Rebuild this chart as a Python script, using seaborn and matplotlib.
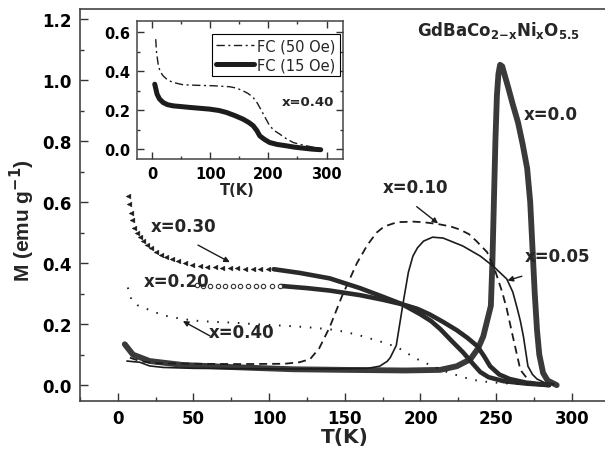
import numpy as np
import pandas as pd
import matplotlib
matplotlib.use("Agg")
import matplotlib.pyplot as plt
from matplotlib.ticker import MultipleLocator, FormatStrFormatter
import seaborn as sns

# ---------------- data ----------------
T_x00 = [4.6, 10, 21, 43, 76, 116, 150, 190, 213, 224, 233, 238, 241.5, 244, 246.5, 247.5,
         248.5, 249.5, 250.5, 251.5, 252.6, 254, 256, 258, 261, 264.5, 267.5, 270.5, 272.5,
         274, 275.5, 277, 278.5, 281, 284, 290]
M_x00 = [0.134, 0.10, 0.079, 0.066, 0.059, 0.052, 0.05, 0.048, 0.05, 0.062, 0.085, 0.12, 0.16,
         0.21, 0.26, 0.40, 0.60, 0.80, 0.95, 1.02, 1.05, 1.045, 1.01, 0.975, 0.92, 0.86, 0.79,
         0.71, 0.60, 0.45, 0.30, 0.18, 0.10, 0.04, 0.015, 0.0]

T_x05 = [6, 10, 14.5, 21, 30, 50, 80, 110, 140, 165, 173, 178, 180, 184, 188.6, 192, 195, 198,
         202, 208, 215, 228, 239.5, 248, 257, 261, 264, 266, 268, 271, 274, 277, 282, 288]
M_x05 = [0.079, 0.077, 0.075, 0.063, 0.058, 0.055, 0.054, 0.053, 0.053, 0.055, 0.062, 0.078,
         0.09, 0.13, 0.272, 0.37, 0.423, 0.45, 0.472, 0.485, 0.482, 0.456, 0.423, 0.39, 0.348,
         0.305, 0.25, 0.21, 0.16, 0.062, 0.035, 0.02, 0.008, 0.003]

T_x10 = [8, 15, 25, 50, 80, 110, 120, 127, 133, 140, 148, 158, 165, 171, 176, 184.5, 195, 202,
         211.6, 220, 226, 232, 237, 244, 249, 254, 257, 261, 266, 272, 280]
M_x10 = [0.09, 0.078, 0.072, 0.07, 0.069, 0.07, 0.075, 0.085, 0.12, 0.19, 0.29, 0.40, 0.46,
         0.50, 0.52, 0.534, 0.536, 0.534, 0.528, 0.52, 0.51, 0.495, 0.472, 0.436, 0.38, 0.305,
         0.25, 0.16, 0.05, 0.012, 0.002]

T_x20_pts = [52, 56, 61, 66, 71, 76, 81, 86, 91, 96, 102, 107]
M_x20_pts = [0.327, 0.326, 0.326, 0.326, 0.326, 0.326, 0.326, 0.325, 0.325, 0.325, 0.325, 0.325]
T_x20 = [108, 125, 140, 160, 175, 188, 198, 206, 215, 224, 231, 237.5, 242, 246, 252, 259, 270, 285]
M_x20 = [0.325, 0.318, 0.31, 0.295, 0.28, 0.265, 0.25, 0.232, 0.207, 0.18, 0.155, 0.128,
         0.095, 0.062, 0.035, 0.02, 0.008, 0.0]

T_x30_pts = [6.6, 7.5, 8.5, 9.5, 11, 12.5, 14.5, 16.5, 19, 22, 25, 28.5, 32, 36, 40, 44.5, 49,
             54, 59, 64, 69, 74, 79, 84, 89, 94, 99]
M_x30_pts = [0.62, 0.595, 0.565, 0.54, 0.515, 0.498, 0.485, 0.472, 0.46, 0.448, 0.438, 0.428,
             0.42, 0.413, 0.406, 0.4, 0.395, 0.39, 0.388, 0.386, 0.385, 0.384, 0.383, 0.382,
             0.381, 0.381, 0.38]
T_x30 = [103, 120, 140, 160, 175, 188, 200, 207, 213, 220, 228, 235, 239.5, 245, 255, 270, 285]
M_x30 = [0.38, 0.368, 0.35, 0.318, 0.29, 0.265, 0.232, 0.21, 0.184, 0.148, 0.108, 0.068,
         0.043, 0.026, 0.013, 0.005, 0.0]

T_x40 = [6.6, 9, 13, 19, 25, 32, 42, 54, 65, 76, 90, 109, 125, 140, 150, 162, 174, 184.5, 191,
         198, 208, 217.5, 228, 239, 255, 272]
M_x40 = [0.32, 0.28, 0.262, 0.25, 0.238, 0.227, 0.217, 0.21, 0.207, 0.205, 0.2, 0.195, 0.19,
         0.183, 0.175, 0.16, 0.142, 0.125, 0.105, 0.085, 0.062, 0.043, 0.026, 0.013, 0.006, 0.003]

# inset: x = 0.40, two fields
T_fc50 = [5.7, 7, 9.8, 13, 18.4, 26, 35.6, 53, 80, 104.6, 133, 145, 156, 165, 173.6, 181, 188,
          195, 202, 210, 219.5, 230, 242.5, 255, 265.5, 280, 294]
M_fc50 = [0.564, 0.5, 0.436, 0.4, 0.376, 0.355, 0.342, 0.33, 0.327, 0.325, 0.32, 0.313, 0.299,
          0.285, 0.265, 0.235, 0.197, 0.158, 0.12, 0.095, 0.077, 0.055, 0.034, 0.024, 0.017,
          0.008, 0.0]
T_fc15 = [4, 8, 12, 18.4, 26, 35.6, 50, 64, 80, 99, 115, 127.6, 142, 156, 166, 173.6, 180, 185,
          193, 202, 215, 231, 245, 260, 275, 290]
M_fc15 = [0.333, 0.282, 0.258, 0.239, 0.228, 0.222, 0.218, 0.214, 0.21, 0.205, 0.198, 0.188,
          0.172, 0.154, 0.137, 0.12, 0.095, 0.068, 0.05, 0.034, 0.024, 0.017, 0.01, 0.005, 0.0,
          -0.003]

legend_labels = ["FC (50 Oe)", "FC (15 Oe)"]
x_ticks = [0, 50, 100, 150, 200, 250, 300]
y_ticks = [0.0, 0.2, 0.4, 0.6, 0.8, 1.0, 1.2]
inset_x_ticks = [0, 100, 200, 300]
inset_y_ticks = [0.0, 0.2, 0.4, 0.6]

# ---------------- style ----------------
sns.set_style("ticks")
plt.rcParams["font.family"] = ["DejaVu Sans"]
plt.rcParams["font.weight"] = "bold"
plt.rcParams["axes.labelweight"] = "bold"
plt.rcParams["mathtext.fontset"] = "custom"
plt.rcParams["mathtext.rm"] = "DejaVu Sans:bold"
plt.rcParams["mathtext.bf"] = "DejaVu Sans:bold"
plt.rcParams["mathtext.it"] = "DejaVu Sans:bold"

fig = plt.figure(figsize=(6.05, 4.60), dpi=100)
ax = fig.add_axes([0.1322, 0.1261, 0.868, 0.8522])

dark = "#1c1c1c"
grey = "#333333"

# x = 0.0 thick curve
sns.lineplot(x=T_x00, y=M_x00, ax=ax, sort=False, estimator=None, color="#3a3a3a", linewidth=4.2)
# x = 0.05 thin solid
sns.lineplot(x=T_x05, y=M_x05, ax=ax, sort=False, estimator=None, color=dark, linewidth=1.2)
# x = 0.10 dashed
sns.lineplot(x=T_x10, y=M_x10, ax=ax, sort=False, estimator=None, color=dark, linewidth=1.3,
             linestyle=(0, (4.4, 2.8)))
# x = 0.20 sparse circles + thick
sns.scatterplot(x=T_x20_pts, y=M_x20_pts, ax=ax, marker="o", s=10, color="white",
                edgecolor=grey, linewidth=0.8, zorder=3)
sns.lineplot(x=T_x20, y=M_x20, ax=ax, sort=False, estimator=None, color="#2a2a2a", linewidth=3.3)
# x = 0.30 sparse triangles + thick
sns.scatterplot(x=T_x30_pts, y=M_x30_pts, ax=ax, marker="<", s=12, color=dark,
                edgecolor=dark, linewidth=0.3, zorder=3)
sns.lineplot(x=T_x30, y=M_x30, ax=ax, sort=False, estimator=None, color="#2a2a2a", linewidth=3.3)
# x = 0.40 dotted
sns.lineplot(x=T_x40, y=M_x40, ax=ax, sort=False, estimator=None, color=dark, linewidth=1.4,
             linestyle=(0, (0.8, 4.5)))

ax.set_xlim(-25, 322)
ax.set_ylim(-0.052, 1.233)
ax.xaxis.set_major_locator(plt.FixedLocator(x_ticks))
ax.yaxis.set_major_locator(plt.FixedLocator(y_ticks))
ax.xaxis.set_minor_locator(MultipleLocator(25))
ax.yaxis.set_minor_locator(MultipleLocator(0.1))
ax.yaxis.set_major_formatter(FormatStrFormatter("%.1f"))
ax.tick_params(which="both", direction="in", colors="#333333", width=1.0, labelcolor="black")
ax.tick_params(which="major", length=6, labelsize=12)
ax.tick_params(which="minor", length=3)
ax.tick_params(axis="x", pad=6)
ax.tick_params(axis="y", pad=6)
for lbl in ax.get_xticklabels() + ax.get_yticklabels():
    lbl.set_fontweight("bold")
for side in ["left", "bottom", "top"]:
    ax.spines[side].set_color("#444444")
    ax.spines[side].set_linewidth(1.2)
ax.spines["right"].set_visible(False)

ax.set_xlabel("T(K)", fontsize=14.5, fontweight="bold")
ax.set_ylabel(r"M (emu g$^{-1}$)", fontsize=15, fontweight="bold",
              family=["Liberation Sans", "DejaVu Sans"])
ax.xaxis.set_label_coords(0.505, -0.066)
ax.yaxis.set_label_coords(-0.082, 0.462)

# title formula
ax.text(197.5, 1.147, r"GdBaCo$_{2\mathrm{-}x}$Ni$_{x}$O$_{5.5}$", fontsize=12,
        fontweight="bold", ha="left", va="baseline")

# annotations
afs = 12
arrow = dict(arrowstyle="-|>", color=dark, lw=1.0, mutation_scale=8, shrinkA=0, shrinkB=0)
ax.text(286.4, 0.889, "x=0.0", fontsize=afs, fontweight="bold", ha="center", va="center")
ax.annotate("", xy=(211.6, 0.530), xytext=(197.5, 0.585), arrowprops=arrow)
ax.text(196.8, 0.649, "x=0.10", fontsize=afs, fontweight="bold", ha="center", va="center")
ax.annotate("", xy=(257.5, 0.343), xytext=(267, 0.357), arrowprops=arrow)
ax.text(290.7, 0.423, "x=0.05", fontsize=afs, fontweight="bold", ha="center", va="center")
ax.annotate("", xy=(74, 0.403), xytext=(53, 0.459), arrowprops=arrow)
ax.text(43.7, 0.521, "x=0.30", fontsize=afs, fontweight="bold", ha="center", va="center")
ax.text(39, 0.341, "x=0.20", fontsize=afs, fontweight="bold", ha="center", va="center")
ax.annotate("", xy=(43, 0.21), xytext=(61, 0.161), arrowprops=arrow)
ax.text(82, 0.174, "x=0.40", fontsize=afs, fontweight="bold", ha="center", va="center")

# ---------------- inset ----------------
ins = fig.add_axes([0.227, 0.652, 0.3405, 0.2993])
ins.set_facecolor("white")
sns.lineplot(x=T_fc50, y=M_fc50, ax=ins, sort=False, estimator=None, color=dark, linewidth=1.0,
             linestyle=(0, (6, 2.5, 1.5, 2.5)), label=legend_labels[0])
sns.lineplot(x=T_fc15, y=M_fc15, ax=ins, sort=False, estimator=None, color=dark, linewidth=3.6,
             label=legend_labels[1])
ins.set_xlim(-26, 329)
ins.set_ylim(-0.051, 0.655)
ins.xaxis.set_major_locator(plt.FixedLocator(inset_x_ticks))
ins.yaxis.set_major_locator(plt.FixedLocator(inset_y_ticks))
ins.xaxis.set_minor_locator(MultipleLocator(50))
ins.yaxis.set_minor_locator(MultipleLocator(0.1))
ins.yaxis.set_major_formatter(FormatStrFormatter("%.1f"))
ins.tick_params(which="both", direction="in", top=True, right=True, colors="#333333",
                labelcolor="black", width=1.0)
ins.tick_params(which="major", length=5, labelsize=10.5)
ins.tick_params(which="minor", length=2.5)
ins.tick_params(axis="both", pad=5)
for lbl in ins.get_xticklabels() + ins.get_yticklabels():
    lbl.set_fontweight("bold")
for side in ins.spines.values():
    side.set_color("#444444")
    side.set_linewidth(1.1)
ins.set_xlabel("T(K)", fontsize=10.5, fontweight="bold")
ins.set_ylabel("")
ins.xaxis.set_label_coords(0.484, -0.17)
ins.text(268, 0.245, "x=0.40", fontsize=9.5, fontweight="bold", ha="center", va="center")
leg = ins.legend(loc="upper right", bbox_to_anchor=(0.984, 0.908), borderaxespad=0,
                 fancybox=False, framealpha=1, edgecolor="black", handlelength=2.6,
                 prop={"weight": "normal", "size": 10.5}, borderpad=0.3, labelspacing=0.25,
                 handletextpad=0.2)
leg.get_frame().set_linewidth(0.8)

fig.savefig("out.png", dpi=100)
